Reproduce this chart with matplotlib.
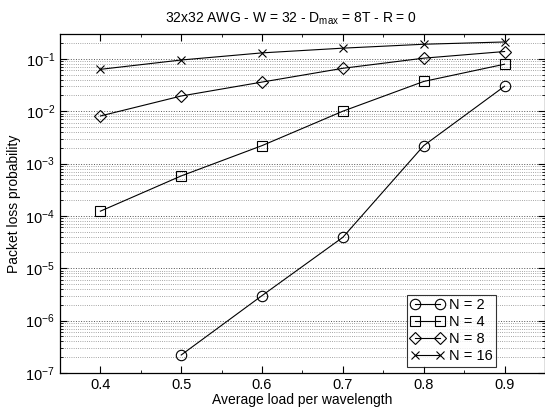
import matplotlib
matplotlib.use('Agg')
import matplotlib.pyplot as plt
from matplotlib.ticker import MultipleLocator, NullFormatter, FixedLocator

plt.rcParams['font.family'] = ['Liberation Sans', 'DejaVu Sans']
plt.rcParams['mathtext.default'] = 'regular'

# data
load = [0.4, 0.5, 0.6, 0.7, 0.8, 0.9]
p_n2 = [None, 2.2e-7, 3.0e-6, 3.9e-5, 2.2e-3, 3.0e-2]
p_n4 = [1.23e-4, 5.8e-4, 2.2e-3, 1.0e-2, 3.7e-2, 7.9e-2]
p_n8 = [8.1e-3, 1.95e-2, 3.6e-2, 6.6e-2, 1.03e-1, 1.38e-1]
p_n16 = [6.3e-2, 9.5e-2, 1.3e-1, 1.6e-1, 1.9e-1, 2.1e-1]
xtick_vals = [0.4, 0.5, 0.6, 0.7, 0.8, 0.9]
xtick_labels = ['0.4', '0.5', '0.6', '0.7', '0.8', '0.9']
ytick_exps = [-7, -6, -5, -4, -3, -2, -1]

series = [(p_n2, 'o', 'N = 2'), (p_n4, 's', 'N = 4'),
          (p_n8, 'D', 'N = 8'), (p_n16, 'x', 'N = 16')]
msizes = {'o': 7.5, 's': 7, 'D': 6, 'x': 5.5}

fig = plt.figure(figsize=(5.45, 4.08), dpi=100)
ax = fig.add_axes([0.110, 0.086, 0.89, 0.831])

for vals, mk, lab in series:
    xs = [x for x, v in zip(load, vals) if v is not None]
    ys = [v for v in vals if v is not None]
    ax.plot(xs, ys, color='black', lw=0.8, marker=mk, ms=msizes[mk],
            mfc='none', mec='black', mew=0.8, label=lab)

ax.set_yscale('log')
ax.set_xlim(0.35, 0.95)
ax.set_ylim(1e-7, 0.3)
ax.xaxis.set_major_locator(FixedLocator(xtick_vals))
ax.set_xticklabels(xtick_labels)
ax.xaxis.set_minor_locator(MultipleLocator(0.05))
ax.xaxis.set_minor_formatter(NullFormatter())

yt = [10.0 ** e for e in ytick_exps]
ax.yaxis.set_major_locator(FixedLocator(yt))
ax.set_yticklabels(['$10^{%d}$' % e for e in ytick_exps])
yminor = [m * 10.0 ** e for e in ytick_exps for m in range(2, 10) if m * 10.0 ** e <= 0.3]
ax.yaxis.set_minor_locator(FixedLocator(yminor))
ax.yaxis.set_minor_formatter(NullFormatter())

ax.grid(True, which='major', axis='y', linestyle=':', color='#555555', lw=0.7)
ax.grid(True, which='minor', axis='y', linestyle=':', color='#888888', lw=0.6)

ax.tick_params(which='both', direction='in', top=True, right=True, labelsize=10.5)
ax.tick_params(which='major', length=5)
ax.tick_params(which='minor', length=2.5)
for s in ax.spines.values():
    s.set_linewidth(0.9)

ax.set_xlabel('Average load per wavelength', fontsize=10, labelpad=1)
ax.set_ylabel('Packet loss probability', fontsize=10, labelpad=3)
ax.set_title('32x32 AWG - W = 32 - D$_{max}$ = 8T - R = 0', fontsize=10,
             x=0.476, pad=8)

leg = ax.legend(loc='lower right', bbox_to_anchor=(0.905, 0.01), numpoints=2,
                fontsize=10.5, frameon=True, fancybox=False, handlelength=2.3,
                handletextpad=0.3, borderpad=0.25, labelspacing=0.2,
                borderaxespad=0.2)
leg.get_frame().set_edgecolor('black')
leg.get_frame().set_linewidth(0.8)

fig.savefig('out.png', dpi=100)
